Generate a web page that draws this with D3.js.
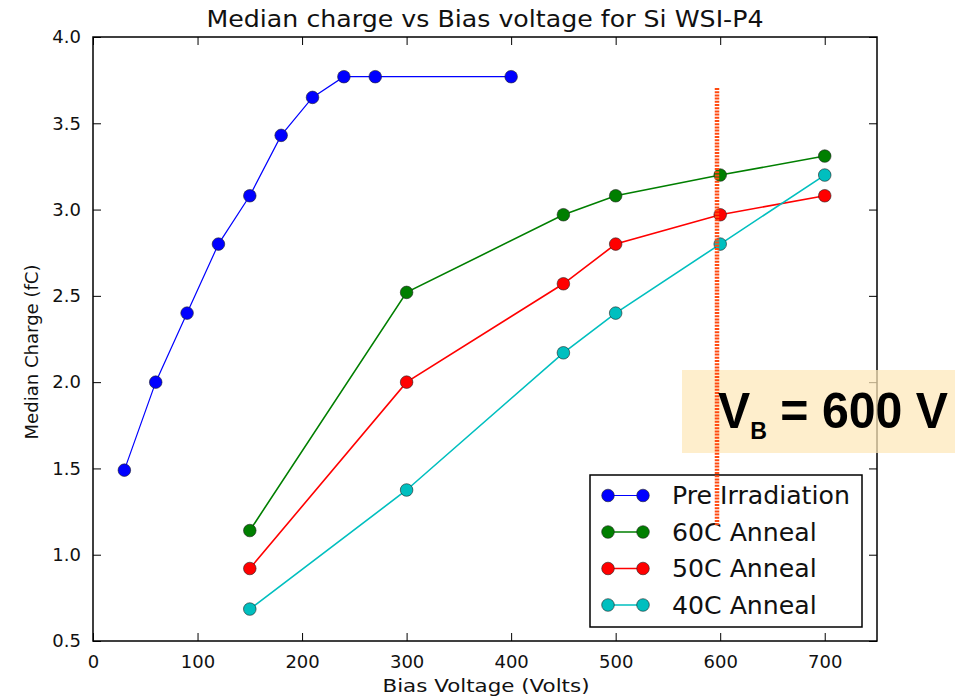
<!DOCTYPE html>
<html>
<head>
<meta charset="utf-8">
<script src="https://cdn.jsdelivr.net/npm/d3@7"></script>
<style>
  body { margin: 0; background: #fff; }
</style>
</head>
<body>
<div id="chart"></div>
<script>
// data
const preX = [30, 60, 90, 120, 150, 180, 210, 240, 270, 400];
const preY = [1.49, 2.0, 2.4, 2.8, 3.08, 3.43, 3.65, 3.77, 3.77, 3.77];
const annealX = [150, 300, 450, 500, 600, 700];
const anneal60 = [1.14, 2.52, 2.97, 3.08, 3.20, 3.31];
const anneal50 = [0.92, 2.0, 2.57, 2.80, 2.97, 3.08];
const anneal40 = [0.685, 1.375, 2.17, 2.40, 2.80, 3.20];
const seriesNames = ['Pre Irradiation', '60C Anneal', '50C Anneal', '40C Anneal'];
const seriesColors = ['#0000ff', '#007f00', '#ff0000', '#00bfbf'];
const xTicks = [0, 100, 200, 300, 400, 500, 600, 700];
const yTicks = [0.5, 1.0, 1.5, 2.0, 2.5, 3.0, 3.5, 4.0];

const series = [
  { xs: preX, ys: preY, width: 1.2 },
  { xs: annealX, ys: anneal60, width: 1.6 },
  { xs: annealX, ys: anneal50, width: 1.6 },
  { xs: annealX, ys: anneal40, width: 1.6 }
].map((s, i) => ({ ...s, name: seriesNames[i], color: seriesColors[i],
  pts: s.xs.map((x, j) => [x, s.ys[j]]) }));

const W = 955, H = 700;
const m = { left: 93, right: 78, top: 37, bottom: 59 };
const FONT = '"DejaVu Sans", sans-serif';

const svg = d3.select('#chart').append('svg')
  .attr('width', W).attr('height', H)
  .attr('font-family', FONT);

const x = d3.scaleLinear().domain([0, 750]).range([m.left, W - m.right]);
const y = d3.scaleLinear().domain([0.5, 4.0]).range([H - m.bottom, m.top]);

// ticks on all four sides, pointing inward
const tk = 8;
svg.append('g').attr('transform', `translate(0,${y(0.5)})`)
  .call(d3.axisBottom(x).tickValues(xTicks).tickSizeInner(-tk).tickSizeOuter(0).tickPadding(14))
  .call(g => g.select('.domain').remove());
svg.append('g').attr('transform', `translate(0,${y(4.0)})`)
  .call(d3.axisTop(x).tickValues(xTicks).tickSizeInner(-tk).tickSizeOuter(0).tickFormat(''))
  .call(g => g.select('.domain').remove());
svg.append('g').attr('transform', `translate(${x(0)},0)`)
  .call(d3.axisLeft(y).tickValues(yTicks).tickSizeInner(-tk).tickSizeOuter(0).tickPadding(12).tickFormat(d3.format('.1f')))
  .call(g => g.select('.domain').remove());
svg.append('g').attr('transform', `translate(${x(750)},0)`)
  .call(d3.axisRight(y).tickValues(yTicks).tickSizeInner(-tk).tickSizeOuter(0).tickFormat(''))
  .call(g => g.select('.domain').remove());

svg.selectAll('.tick line').attr('stroke', '#000').attr('stroke-width', 1);
svg.selectAll('.tick text').attr('font-size', 18).attr('fill', '#111')
  .attr('font-family', FONT);

svg.append('rect')
  .attr('x', x(0)).attr('y', y(4.0))
  .attr('width', x(750) - x(0)).attr('height', y(0.5) - y(4.0))
  .attr('fill', 'none').attr('stroke', '#000').attr('stroke-width', 1.5);

// lines + markers
const line = d3.line().x(d => x(d[0])).y(d => y(d[1]));
const plot = svg.append('g');
series.forEach(s => {
  plot.append('path').datum(s.pts)
    .attr('d', line).attr('fill', 'none')
    .attr('stroke', s.color).attr('stroke-width', s.width);
});
series.forEach(s => {
  plot.selectAll(null).data(s.pts).enter().append('circle')
    .attr('cx', d => x(d[0])).attr('cy', d => y(d[1])).attr('r', 6.3)
    .attr('fill', s.color).attr('stroke', '#222').attr('stroke-width', 0.6);
});

// titles
svg.append('text').attr('x', (x(0) + x(750)) / 2).attr('y', 27)
  .attr('text-anchor', 'middle').attr('font-size', 23).attr('fill', '#111')
  .attr('textLength', 557).attr('lengthAdjust', 'spacingAndGlyphs')
  .text('Median charge vs Bias voltage for Si WSI-P4');
svg.append('text').attr('x', 486).attr('y', 692)
  .attr('text-anchor', 'middle').attr('font-size', 17.5).attr('fill', '#111')
  .attr('textLength', 207).attr('lengthAdjust', 'spacingAndGlyphs')
  .text('Bias Voltage (Volts)');
svg.append('text').attr('transform', `translate(38,352) rotate(-90)`)
  .attr('text-anchor', 'middle').attr('font-size', 18).attr('fill', '#111')
  .attr('textLength', 175).attr('lengthAdjust', 'spacingAndGlyphs')
  .text('Median Charge (fC)');

// legend
const lg = svg.append('g').attr('transform', 'translate(590,475)');
lg.append('rect').attr('width', 272).attr('height', 152)
  .attr('fill', '#fff').attr('stroke', '#000').attr('stroke-width', 1.5);
series.forEach((s, i) => {
  const ly = 20.5 + i * 36.5;
  lg.append('line').attr('x1', 18).attr('x2', 53).attr('y1', ly).attr('y2', ly)
    .attr('stroke', s.color).attr('stroke-width', s.width);
  [18, 53].forEach(cx => lg.append('circle').attr('cx', cx).attr('cy', ly).attr('r', 6.3)
    .attr('fill', s.color).attr('stroke', '#222').attr('stroke-width', 0.6));
  lg.append('text').attr('x', 82).attr('y', ly + 8.5).attr('font-size', 25.2).attr('fill', '#111')
    .text(s.name);
});

// V_B annotation overlay
svg.append('rect').attr('x', 682).attr('y', 370).attr('width', 273).attr('height', 83)
  .attr('fill', '#fde7b8').attr('opacity', 0.72);
svg.append('line').attr('x1', 717).attr('x2', 717).attr('y1', 88).attr('y2', 525)
  .attr('stroke', '#ff4a10').attr('stroke-width', 4.5).attr('stroke-dasharray', '2,1.2');
const vb = svg.append('text').attr('x', 718).attr('y', 428)
  .style('font-family', '"Liberation Sans", Arial, sans-serif')
  .attr('font-weight', 'bold').attr('font-size', 50).attr('fill', '#000')
  .attr('textLength', 230).attr('lengthAdjust', 'spacingAndGlyphs');
vb.append('tspan').text('V');
vb.append('tspan').attr('font-size', 24).attr('dy', 11).text('B');
vb.append('tspan').attr('dy', -11).text(' = 600 V');
</script>
</body>
</html>
